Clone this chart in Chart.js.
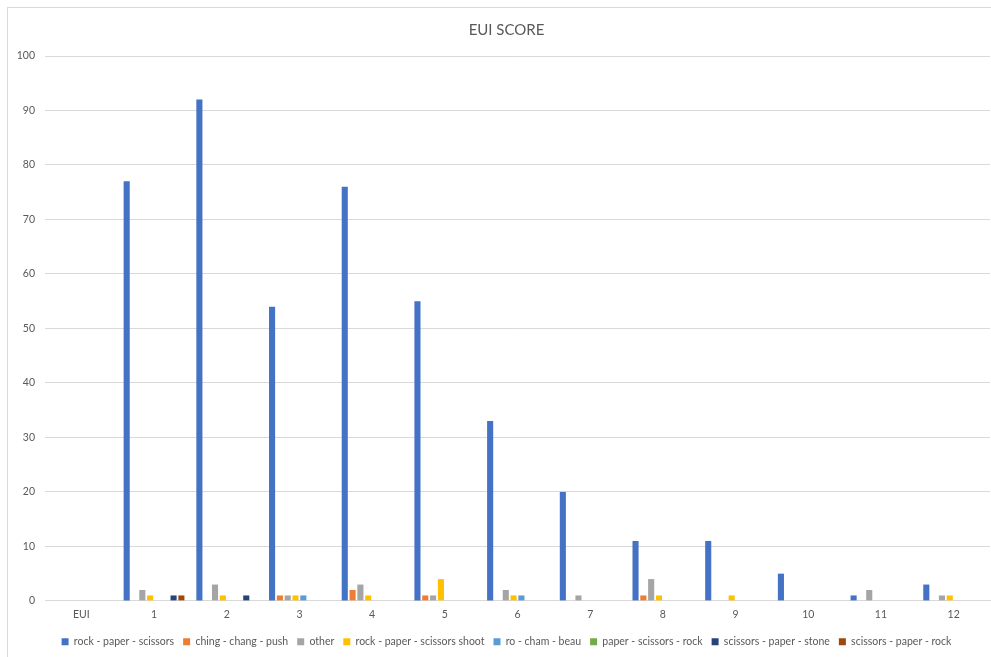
<!DOCTYPE html>
<html>
<head>
<meta charset="utf-8">
<style>
  html, body { margin: 0; padding: 0; background: #ffffff; overflow: hidden; }
  #wrap { position: absolute; left: 0; top: 0; width: 1010px; height: 665px; }
</style>
<script src="https://cdn.jsdelivr.net/npm/chart.js@4/dist/chart.umd.min.js"></script>
</head>
<body>
<div id="wrap"><canvas id="chart" width="1010" height="665"></canvas></div>
<script>
// Categories along the x axis
const categories = ["EUI", "1", "2", "3", "4", "5", "6", "7", "8", "9", "10", "11", "12"];

// One array per answer, one value per category
const rockPaperScissors      = [0, 77, 92, 54, 76, 55, 33, 20, 11, 11, 5, 1, 3];
const chingChangPush         = [0, 0, 0, 1, 2, 1, 0, 0, 1, 0, 0, 0, 0];
const other                  = [0, 2, 3, 1, 3, 1, 2, 1, 4, 0, 0, 2, 1];
const rockPaperScissorsShoot = [0, 1, 1, 1, 1, 4, 1, 0, 1, 1, 0, 0, 1];
const roChamBeau             = [0, 0, 0, 1, 0, 0, 1, 0, 0, 0, 0, 0, 0];
const paperScissorsRock      = [0, 0, 0, 0, 0, 0, 0, 0, 0, 0, 0, 0, 0];
const scissorsPaperStone     = [0, 1, 1, 0, 0, 0, 0, 0, 0, 0, 0, 0, 0];
const scissorsPaperRock      = [0, 1, 0, 0, 0, 0, 0, 0, 0, 0, 0, 0, 0];

const seriesNames = [
  "rock - paper - scissors",
  "ching - chang - push",
  "other",
  "rock - paper - scissors shoot",
  "ro - cham - beau",
  "paper - scissors - rock",
  "scissors - paper - stone",
  "scissors - paper - rock"
];
const seriesValues = [
  rockPaperScissors, chingChangPush, other, rockPaperScissorsShoot,
  roChamBeau, paperScissorsRock, scissorsPaperStone, scissorsPaperRock
];
const seriesColors = ["#4472C4", "#ED7D31", "#A5A5A5", "#FFC000", "#5B9BD5", "#70AD47", "#264478", "#9E480E"];

const yTicks = { min: 0, max: 100, step: 10 };

const textColor = "#595959";
const fontFamily = "Lato, 'Liberation Sans', Arial, sans-serif";

// Thin frame around the chart (its right and bottom edges fall past the view)
const framePlugin = {
  id: "frame",
  beforeDraw(chart) {
    const ctx = chart.ctx;
    ctx.save();
    ctx.fillStyle = "#ffffff";
    ctx.fillRect(0, 0, chart.width, chart.height);
    ctx.strokeStyle = "#d9d9d9";
    ctx.lineWidth = 1;
    ctx.strokeRect(7.5, 7.5, chart.width - 8, chart.height - 4);
    ctx.restore();
  }
};

// Centre the title and legend on the full chart box rather than on the padded area
const centreShift = 7;
const centrePlugin = {
  id: "centreBlocks",
  afterLayout(chart) {
    [chart.titleBlock, chart.legend].forEach(block => {
      if (block) { block.left += centreShift; block.right += centreShift; }
    });
  }
};

new Chart(document.getElementById("chart"), {
  type: "bar",
  data: {
    labels: categories,
    datasets: seriesNames.map((name, i) => ({
      label: name,
      data: seriesValues[i],
      backgroundColor: seriesColors[i],
      borderWidth: 0,
      categoryPercentage: 0.86,
      barPercentage: 0.78
    }))
  },
  options: {
    responsive: false,
    animation: false,
    devicePixelRatio: 1,
    layout: { padding: { left: 9, right: 20, top: 8, bottom: 8 } },
    plugins: {
      title: {
        display: true,
        text: "EUI SCORE",
        color: textColor,
        font: { family: fontFamily, size: 15, weight: "normal" },
        padding: { top: 13, bottom: 17 }
      },
      legend: {
        position: "bottom",
        labels: {
          color: textColor,
          font: { family: fontFamily, size: 10.5 },
          boxWidth: 7,
          boxHeight: 7,
          padding: 9
        }
      },
      tooltip: { enabled: false }
    },
    scales: {
      x: {
        grid: { display: false, drawTicks: false },
        border: { color: "#d9d9d9" },
        ticks: { color: textColor, font: { family: fontFamily, size: 10.5 }, padding: 7 }
      },
      y: {
        min: yTicks.min,
        max: yTicks.max,
        ticks: { stepSize: yTicks.step, color: textColor, font: { family: fontFamily, size: 10.5 }, padding: 10 },
        grid: { color: "#d9d9d9", drawTicks: false },
        border: { display: false },
        afterFit(scale) { scale.width = 36; }
      }
    }
  },
  plugins: [framePlugin, centrePlugin]
});
</script>
</body>
</html>
